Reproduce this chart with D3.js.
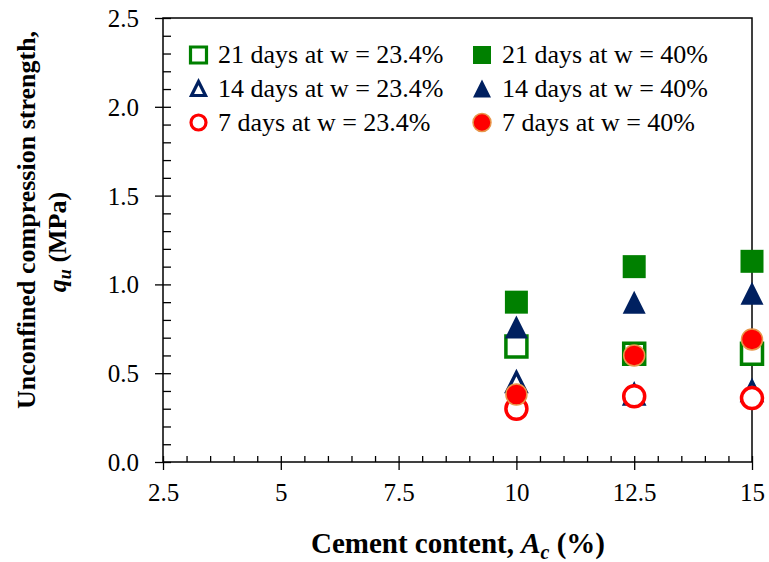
<!DOCTYPE html>
<html>
<head>
<meta charset="utf-8">
<script src="https://cdn.jsdelivr.net/npm/d3@7"></script>
<style>
  body { margin: 0; background: #fff; }
  svg, svg text { font-family: "Liberation Serif", "Times New Roman", Times, serif !important; fill: #000; }
</style>
</head>
<body>
<div id="plot"></div>
<script>
// Data
const cementContent = [10, 12.5, 15];
const q21Low = [0.65, 0.61, 0.61];
const q14Low = [0.45, 0.38, 0.40];
const q7Low = [0.30, 0.37, 0.36];
const q21High = [0.90, 1.10, 1.13];
const q14High = [0.76, 0.90, 0.95];
const q7High = [0.38, 0.60, 0.69];

const seriesLabels = [
    "21 days at w = 23.4%", "14 days at w = 23.4%", "7 days at w = 23.4%",
    "21 days at w = 40%", "14 days at w = 40%", "7 days at w = 40%"
];
const xTicks = [2.5, 5, 7.5, 10, 12.5, 15];
const yTicks = [0, 0.5, 1.0, 1.5, 2.0, 2.5];

// Layout
const W = 769, H = 562;
const plotLeft = 163, plotRight = 752, plotTop = 18, plotBottom = 462;
const serif = '"Liberation Serif", "Times New Roman", Times, serif';

const svg = d3.select("#plot")
    .append("svg")
    .attr("width", W)
    .attr("height", H)
    .style("font-family", serif);

const x = d3.scaleLinear().domain([2.5, 15]).range([plotLeft, plotRight]);
const y = d3.scaleLinear().domain([0, 2.5]).range([plotBottom, plotTop]);

const green = "#008000", navy = "#002060", red = "#ff0000", orange = "#e8964a";

// marker styles (drawn in the same order as the original series)
const styles = [
    {shape: "square", size: 21, fill: "#fff", stroke: green, sw: 3.5},
    {shape: "triangle", size: 19, fill: "#fff", stroke: navy, sw: 3.5},
    {shape: "circle", size: 21, fill: "#fff", stroke: red, sw: 3.5},
    {shape: "square", size: 23, fill: green, stroke: "none", sw: 0},
    {shape: "triangle", size: 23, fill: navy, stroke: "none", sw: 0},
    {shape: "circle", size: 21, fill: red, stroke: orange, sw: 1.5}
];
const seriesValues = [q21Low, q14Low, q7Low, q21High, q14High, q7High];

function markerPath(shape, s) {
    const h = s / 2;
    if (shape === "square") return `M${-h},${-h}H${h}V${h}H${-h}Z`;
    if (shape === "triangle") return `M0,${-h}L${h},${h}L${-h},${h}Z`;
    return d3.arc()({innerRadius: 0, outerRadius: h, startAngle: 0, endAngle: 2 * Math.PI});
}

// Frame
svg.append("rect")
    .attr("x", plotLeft).attr("y", plotTop)
    .attr("width", plotRight - plotLeft).attr("height", plotBottom - plotTop)
    .attr("fill", "none").attr("stroke", "#000").attr("stroke-width", 1.5);

// Y axis: major ticks outside with labels, minor ticks inside
const yAxis = svg.append("g")
    .attr("transform", `translate(${plotLeft},0)`)
    .call(d3.axisLeft(y).tickValues(yTicks).tickSize(8).tickPadding(16).tickFormat(d3.format(".1f")));
yAxis.selectAll("text").style("font-size", "25px").attr("dy", "0.34em");

const yMinor = d3.range(0, 2.5001, 0.1);
svg.append("g")
    .attr("transform", `translate(${plotLeft},0)`)
    .call(d3.axisRight(y).tickValues(yMinor).tickSize(8).tickFormat(""));

// X axis
const xAxis = svg.append("g")
    .attr("transform", `translate(0,${plotBottom})`)
    .call(d3.axisBottom(x).tickValues(xTicks).tickSize(8).tickPadding(13).tickFormat(d3.format("")));
xAxis.selectAll("text").style("font-size", "25px");

const xMinor = d3.range(2.5, 15.0001, 0.5);
svg.append("g")
    .attr("transform", `translate(0,${plotBottom})`)
    .call(d3.axisTop(x).tickValues(xMinor).tickSize(6).tickFormat(""));

svg.selectAll(".domain").remove();
svg.selectAll("g").attr("font-family", null);
svg.selectAll(".tick line").attr("stroke", "#000").attr("stroke-width", 1.3);

// Points
seriesValues.forEach((vals, i) => {
    const st = styles[i];
    svg.append("g")
        .selectAll("path")
        .data(vals.map((v, j) => ({x: cementContent[j], y: v})))
        .join("path")
        .attr("transform", d => `translate(${x(d.x)},${y(d.y)})`)
        .attr("d", markerPath(st.shape, st.size))
        .attr("fill", st.fill)
        .attr("stroke", st.stroke)
        .attr("stroke-width", st.sw)
        .attr("stroke-linejoin", "miter");
});

// Legend
const legendCols = [{mx: 198.5, tx: 218}, {mx: 482, tx: 502}];
const legendRows = [55, 88.5, 122.5];
const legendSizes = [16, 14, 15, 18, 18, 18];
seriesLabels.forEach((lab, i) => {
    const col = legendCols[Math.floor(i / 3)];
    const cy = legendRows[i % 3];
    const st = styles[i];
    svg.append("path")
        .attr("transform", `translate(${col.mx},${cy})`)
        .attr("d", markerPath(st.shape, legendSizes[i]))
        .attr("fill", st.fill)
        .attr("stroke", st.stroke)
        .attr("stroke-width", st.sw ? Math.min(st.sw, 3.2) : 0);
    svg.append("text")
        .attr("x", col.tx)
        .attr("y", cy + 8)
        .style("font-size", "26px")
        .text(lab);
});

// Axis titles
const xTitle = svg.append("text")
    .attr("x", 458)
    .attr("y", 553)
    .attr("text-anchor", "middle")
    .style("font-size", "29px")
    .style("font-weight", "bold");
xTitle.append("tspan").text("Cement content, ");
xTitle.append("tspan").style("font-style", "italic").text("A");
xTitle.append("tspan").style("font-style", "italic").style("font-size", "20px").attr("dy", 6).text("c");
xTitle.append("tspan").attr("dy", -6).text(" (%)");

svg.append("text")
    .attr("transform", "translate(35,220) rotate(-90)")
    .attr("text-anchor", "middle")
    .style("font-size", "26px")
    .style("font-weight", "bold")
    .text("Unconfined compression strength,");

const yTitle2 = svg.append("text")
    .attr("transform", "translate(66,242) rotate(-90)")
    .attr("text-anchor", "middle")
    .style("font-size", "26px")
    .style("font-weight", "bold");
yTitle2.append("tspan").style("font-style", "italic").text("q");
yTitle2.append("tspan").style("font-style", "italic").style("font-size", "18px").attr("dy", 5).text("u");
yTitle2.append("tspan").attr("dy", -5).text(" (MPa)");
</script>
</body>
</html>
